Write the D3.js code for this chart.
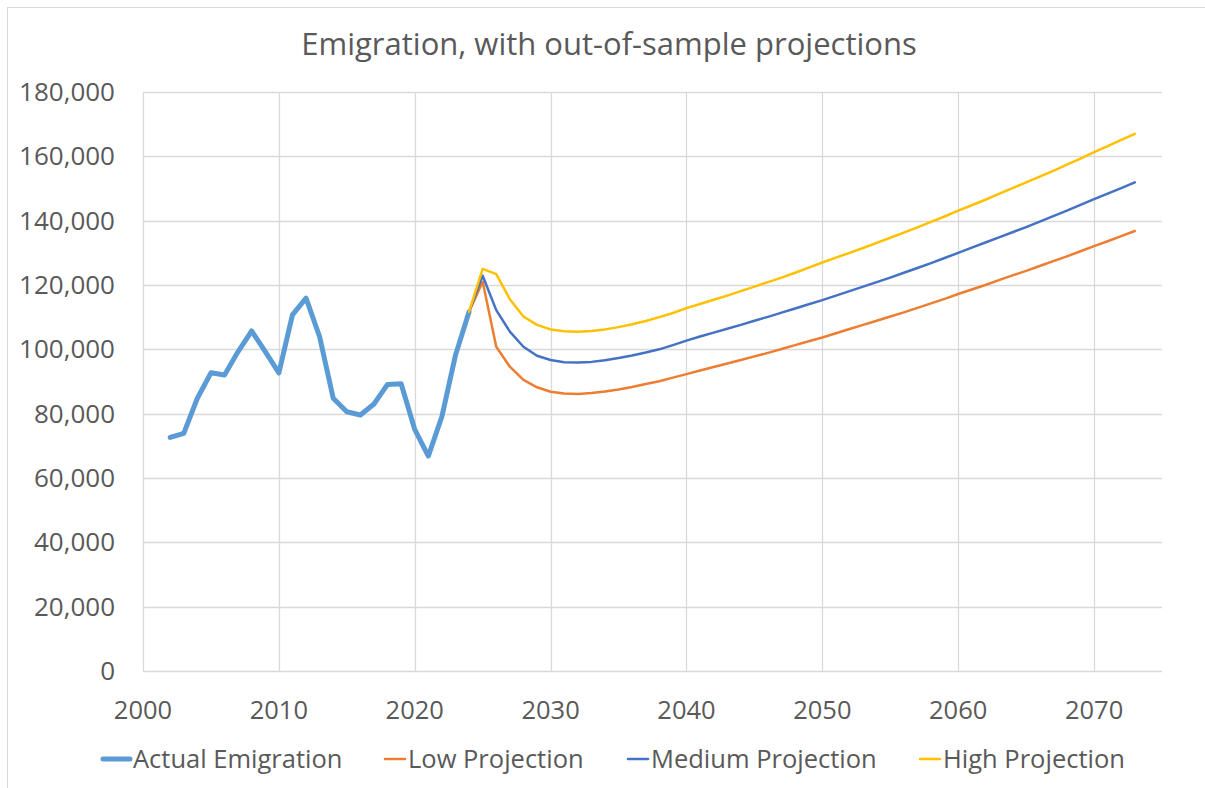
<!DOCTYPE html>
<html>
<head>
<meta charset="utf-8">
<script src="https://cdn.jsdelivr.net/npm/d3@7"></script>
<style>
  body { margin: 0; background: #fff; }
  svg text { font-family: "Open Sans", "Noto Sans", sans-serif; fill: #595959; }
</style>
</head>
<body>
<svg id="chart" width="1205" height="788"></svg>
<script>
// --- data ---
var actualYears = [2002,2003,2004,2005,2006,2007,2008,2009,2010,2011,2012,2013,2014,2015,2016,2017,2018,2019,2020,2021,2022,2023,2024];
var actualValues = [72600,73900,84800,92700,92000,99300,105700,99300,92700,110700,115900,103900,84800,80600,79600,83000,89100,89300,75100,66800,79100,98200,111700];

var projYears = [];
for (var y = 2024; y <= 2073; y++) projYears.push(y);

var lowValues = [111700,121000,100800,94600,90500,88200,86800,86300,86100,86400,
  86900,87500,88300,89200,90100,91200,92300,93400,94500,95600,
  96700,97800,98900,100100,101300,102500,103700,105000,106300,107600,
  108900,110200,111500,112900,114300,115700,117200,118600,120000,121500,
  123000,124400,125900,127400,128900,130500,132100,133600,135200,136800];
var mediumValues = [111700,122900,112200,105500,100800,98000,96700,96000,95900,96100,
  96600,97300,98100,99000,100000,101300,102700,104000,105200,106400,
  107600,108900,110100,111400,112700,114000,115300,116700,118100,119500,
  120900,122300,123800,125300,126800,128400,130000,131600,133200,134800,
  136400,138000,139700,141400,143100,144900,146700,148400,150100,151900];
var highValues = [111700,125000,123400,115600,110200,107600,106200,105600,105500,105700,
  106200,106900,107800,108800,110000,111300,112800,114100,115400,116700,
  118100,119500,120900,122300,123800,125400,127000,128500,130000,131500,
  133100,134700,136300,137900,139600,141300,143100,144800,146500,148300,
  150100,151900,153700,155500,157400,159300,161300,163200,165100,167000];

var xTicks = [2000,2010,2020,2030,2040,2050,2060,2070];
var yTicks = [0,20000,40000,60000,80000,100000,120000,140000,160000,180000];

var seriesNames = ["Actual Emigration","Low Projection","Medium Projection","High Projection"];
var seriesColors = ["#5b9bd5","#ed7d31","#4472c4","#ffc000"];

// --- layout ---
var svg = d3.select("#chart");
var plotL = 143, plotR = 1162, plotT = 92, plotB = 671;

var x = d3.scaleLinear().domain([2000, 2075]).range([plotL, plotR]);
var yScale = d3.scaleLinear().domain([0, 180000]).range([plotB, plotT]);

// outer border
svg.append("rect")
  .attr("x", 7.5).attr("y", 7.5)
  .attr("width", 1205).attr("height", 800)
  .attr("fill", "none").attr("stroke", "#d9d9d9").attr("stroke-width", 1);

// title
svg.append("text")
  .attr("x", 609).attr("y", 55)
  .attr("text-anchor", "middle")
  .style("font-size", "31px")
  .text("Emigration, with out-of-sample projections");

// gridlines
svg.append("g").selectAll("line.h")
  .data(yTicks).enter().append("line")
  .attr("x1", plotL).attr("x2", plotR)
  .attr("y1", function(d){ return Math.round(yScale(d)) + 0.5; })
  .attr("y2", function(d){ return Math.round(yScale(d)) + 0.5; })
  .attr("stroke", "#d9d9d9").attr("stroke-width", 1.3);

svg.append("g").selectAll("line.v")
  .data(xTicks).enter().append("line")
  .attr("y1", plotT).attr("y2", plotB)
  .attr("x1", function(d){ return Math.round(x(d)) + 0.5; })
  .attr("x2", function(d){ return Math.round(x(d)) + 0.5; })
  .attr("stroke", "#d9d9d9").attr("stroke-width", 1.3);

// y labels
var fmt = d3.format(",");
svg.append("g").selectAll("text")
  .data(yTicks).enter().append("text")
  .attr("x", 115)
  .attr("y", function(d){ return yScale(d); })
  .attr("dy", "0.35em")
  .attr("text-anchor", "end")
  .style("font-size", "26px")
  .text(function(d){ return fmt(d); });

// x labels
svg.append("g").selectAll("text")
  .data(xTicks).enter().append("text")
  .attr("x", function(d){ return x(d); })
  .attr("y", 710)
  .attr("dy", "0.35em")
  .attr("text-anchor", "middle")
  .style("font-size", "25.5px")
  .text(function(d){ return d; });

// lines
var line = d3.line()
  .x(function(d){ return x(d[0]); })
  .y(function(d){ return yScale(d[1]); })
  .curve(d3.curveLinear);

function pairs(years, vals) {
  return years.map(function(yr, i){ return [yr, vals[i]]; });
}

svg.append("path")
  .datum(pairs(actualYears, actualValues))
  .attr("d", line).attr("fill", "none")
  .attr("stroke", seriesColors[0]).attr("stroke-width", 5)
  .attr("stroke-linejoin", "round").attr("stroke-linecap", "round");

[[lowValues,1],[mediumValues,2],[highValues,3]].forEach(function(s){
  svg.append("path")
    .datum(pairs(projYears, s[0]))
    .attr("d", line).attr("fill", "none")
    .attr("stroke", seriesColors[s[1]]).attr("stroke-width", 2.5)
    .attr("stroke-linejoin", "round").attr("stroke-linecap", "round");
});

// legend
var legendX = [103, 385, 628, 920];
var legendLen = [27, 20, 20, 20];
var legend = svg.append("g");
seriesNames.forEach(function(name, i){
  legend.append("line")
    .attr("x1", legendX[i]).attr("x2", legendX[i] + legendLen[i])
    .attr("y1", 759).attr("y2", 759)
    .attr("stroke", seriesColors[i])
    .attr("stroke-width", i === 0 ? 5 : 2.5)
    .attr("stroke-linecap", "round");
  legend.append("text")
    .attr("x", legendX[i] + legendLen[i] + 3).attr("y", 759)
    .attr("dy", "0.35em")
    .style("font-size", "25.5px")
    .text(name);
});
</script>
</body>
</html>
